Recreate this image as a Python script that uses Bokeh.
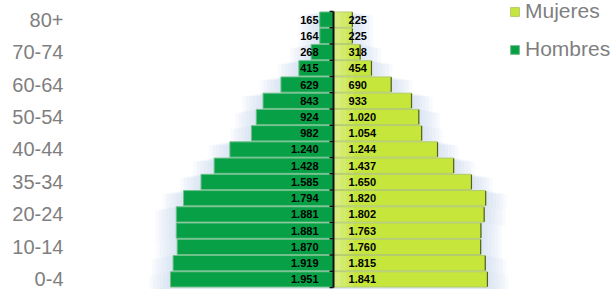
import numpy as np
from bokeh.plotting import figure
from bokeh.models import ColumnDataSource, FixedTicker, Legend, LegendItem
from bokeh.embed import file_html
from bokeh.resources import INLINE
from bokeh.core.properties import value

# ---- data (bottom row = 0-4) ----
age_groups = ["0-4", "5-9", "10-14", "15-19", "20-24", "25-29", "35-34", "35-39",
              "40-44", "45-49", "50-54", "55-59", "60-64", "65-69", "70-74", "75-79", "80+"]
hombres = [1951, 1919, 1870, 1881, 1881, 1794, 1585, 1428, 1240, 982, 924, 843, 629, 415, 268, 164, 165]
mujeres = [1841, 1815, 1760, 1763, 1802, 1820, 1650, 1437, 1244, 1054, 1020, 933, 690, 454, 318, 225, 225]

def fmt(v):
    return f"{v:,}".replace(",", ".")

rows = np.arange(len(age_groups))
men = np.array(hombres, dtype=float)
women = np.array(mujeres, dtype=float)

PX = 0.0836          # pixels per unit (layout)
U = 1.0 / PX         # units per pixel

src = ColumnDataSource(dict(
    y=rows, men_left=-men, women_right=women,
    men_txt=[fmt(v) for v in hombres], women_txt=[fmt(v) for v in mujeres],
))

W, H = 611, 289
p = figure(width=W, height=H, output_backend="svg", toolbar_location=None,
           x_range=(-3206, 3325), y_range=(-0.623, 17.177),
           min_border_left=65, min_border_right=0, min_border_top=0, min_border_bottom=0,
           outline_line_color=None, background_fill_color="white", border_fill_color="white")
p.xaxis.visible = False
p.xgrid.visible = False
p.ygrid.visible = False

yax = p.yaxis[0]
yax.ticker = FixedTicker(ticks=list(rows[::2]))
yax.major_label_overrides = {int(i): age_groups[i] for i in rows[::2]}
yax.axis_line_color = None
yax.major_tick_line_color = None
yax.minor_tick_line_color = None
yax.major_tick_out = 0
yax.major_label_standoff = 2
yax.major_label_text_font = "Liberation Sans"
yax.major_label_text_font_size = "20px"
yax.major_label_text_color = "#7f7f7f"


def step_outline(vals, ext, sign, dy):
    xs, ys = [0.0], [-0.5 - dy]
    for i, v in enumerate(vals):
        xs += [sign * (v + ext), sign * (v + ext)]
        ys += [i - 0.5 - dy, i + 0.5 - dy]
    xs.append(0.0)
    ys.append(len(vals) - 0.5 - dy)
    return xs, ys


# soft bluish glow behind the pyramid
for k in range(1, 7):
    ext = 3.5 * k * U
    dy = 0.04 * k
    mx, my = step_outline(men, ext, -1, dy)
    wx, wy = step_outline(women, ext, 1, dy)
    p.patch(mx, my, fill_color="#bcd2ec", fill_alpha=0.10, line_color=None)
    p.patch(wx, wy, fill_color="#bcd2ec", fill_alpha=0.10, line_color=None)

men_r = p.hbar(y="y", height=0.94, left="men_left", right=0, source=src,
               fill_color="#08a046", line_color="#6fc08a", line_width=1)
women_r = p.hbar(y="y", height=0.94, left=0, right="women_right", source=src,
                 fill_color="#c6e63c", line_color="#b3cb6a", line_width=1)

# lighter zone of the women bars near the centre
for wpx in (20, 13, 7):
    p.hbar(y=rows, height=0.9, left=0, right=np.minimum(women, wpx * U), fill_color="white",
           fill_alpha=0.13, line_color=None)

# darker right edge of the women bars
p.segment(x0=women, y0=rows - 0.45, x1=women, y1=rows + 0.45, line_color="#55621f", line_width=1.2)

# central axis with ticks between rows
p.segment(x0=[0], y0=[-0.5], x1=[0], y1=[len(rows) - 0.5], line_color="#111111", line_width=2)
bounds = np.arange(len(rows) + 1) - 0.5
p.ray(x=np.zeros(len(bounds)), y=bounds, length=4, length_units="screen", angle=np.pi,
      line_color="#111111", line_width=1.5)

p.text(x=0, y="y", text="men_txt", source=src, x_offset=-15, text_align="right",
       text_baseline="middle", text_font=value("Liberation Sans"), text_font_style="bold",
       text_font_size="11px", text_color="#000000")
p.text(x=0, y="y", text="women_txt", source=src, x_offset=15, text_align="left",
       text_baseline="middle", text_font=value("Liberation Sans"), text_font_style="bold",
       text_font_size="11px", text_color="#000000")

legend = Legend(items=[LegendItem(label="Mujeres", renderers=[women_r]),
                       LegendItem(label="Hombres", renderers=[men_r])],
                location=(444, 228), orientation="vertical",
                glyph_width=11, glyph_height=11, label_standoff=5, label_height=14,
                spacing=14, padding=0, margin=0,
                label_text_font="Liberation Sans", label_text_font_size="21px",
                label_text_color="#7f7f7f", border_line_color=None, background_fill_alpha=0)
p.add_layout(legend)

open("out.html", "w").write(file_html(p, INLINE))
